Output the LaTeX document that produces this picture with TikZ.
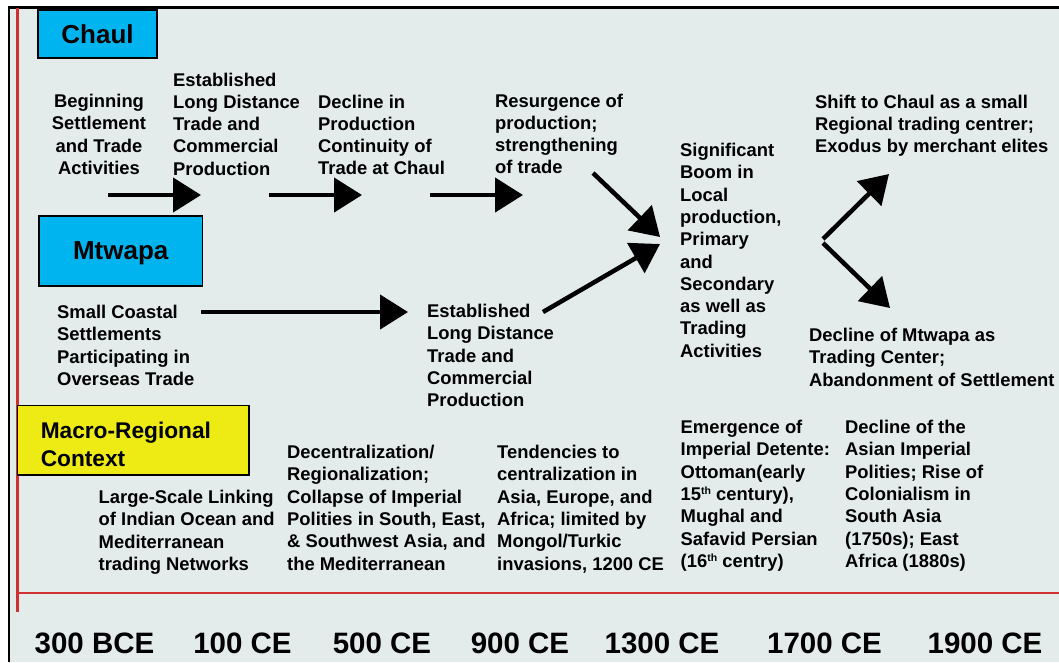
\documentclass[tikz,border=0pt]{standalone}
\usepackage{fontspec}
\setmainfont{Liberation Sans}
\usetikzlibrary{arrows.meta}
\definecolor{panel}{RGB}{227,236,235}
\definecolor{boxblue}{RGB}{0,181,239}
\definecolor{boxyellow}{RGB}{238,234,20}
\definecolor{axisred}{RGB}{208,48,47}
\newcommand{\supth}{\raisebox{6pt}{\fontsize{10.5}{10.5}\selectfont th}}
\tikzset{
  txt/.style={font=\fontsize{18.4}{22.3}\selectfont\bfseries, align=left, anchor=north west, inner sep=0pt},
  site/.style={draw, line width=1.5pt, fill=boxblue, font=\fontsize{26}{30}\selectfont\bfseries, text depth=0pt, inner sep=0pt},
  year/.style={font=\fontsize{29.5}{34}\selectfont\bfseries, anchor=base, inner sep=0pt},
  flow/.style={line width=4.5pt, -{Triangle[length=28pt,width=34pt]}}
}
\begin{document}
\begin{tikzpicture}[x=1pt,y=-1pt]
        \def\xmax{1059} \def\ymax{662}
        \useasboundingbox (0,0) rectangle (\xmax,\ymax);
        \fill[panel] (9,8) rectangle (\xmax,\ymax);
        \draw[line width=2.5pt] (9,\ymax) -- (9,7.5) -- (\xmax,7.5);
        \draw[axisred,line width=2.2pt] (17.5,8) -- (17.5,612);
        \draw[axisred,line width=2.2pt] (17.5,593) -- (\xmax,593);

        \node[site, minimum width=119pt, minimum height=48pt] (chaul) at (97.5,34) {Chaul};
        \node[site, minimum width=163.5pt, minimum height=70pt] (mtwapa) at (120.75,251) {Mtwapa};
        \node[draw, line width=1.5pt, fill=boxyellow, font=\fontsize{22.7}{28}\selectfont\bfseries,
              align=left, anchor=north west, minimum width=231.6pt, minimum height=69.3pt,
              text width=185pt, inner xsep=23.3pt, inner ysep=0pt] (ctx) at (16.7,404.7)
              {\rule{0pt}{25.3pt}Macro-Regional\\Context};

        \node[txt, align=center, anchor=north] (ch1) at (99,94) {Beginning\\Settlement\\and Trade\\Activities};
        \node[txt] (ch2) at (173,72.5) {Established\\Long Distance\\Trade and\\Commercial\\Production};
        \node[txt] (ch3) at (318,94.5) {Decline in\\Production\\Continuity of\\Trade at Chaul};
        \node[txt] (ch4) at (495,93.5) {Resurgence of\\production;\\strengthening\\of trade};
        \node[txt] (boom) at (680,143) {Significant\\Boom in\\Local\\production,\\Primary\\and\\Secondary\\as well as\\Trading\\Activities};
        \node[txt] (ch5) at (815,94.5) {Shift to Chaul as a small\\Regional trading centrer;\\Exodus by merchant elites};

        \node[txt] (mt1) at (57,305) {Small Coastal\\Settlements\\Participating in\\Overseas Trade};
        \node[txt] (mt2) at (427,304) {Established\\Long Distance\\Trade and\\Commercial\\Production};
        \node[txt] (mt3) at (809,328) {Decline of Mtwapa as\\Trading Center;\\Abandonment of Settlement};

        \node[txt] (mr1) at (98.5,490) {Large-Scale Linking\\of Indian Ocean and\\Mediterranean\\trading Networks};
        \node[txt] (mr2) at (287,445) {Decentralization/\\Regionalization;\\Collapse of Imperial\\Polities in South, East,\\\& Southwest Asia, and\\the Mediterranean};
        \node[txt] (mr3) at (497,445) {Tendencies to\\centralization in\\Asia, Europe, and\\Africa; limited by\\Mongol/Turkic\\invasions, 1200 CE};
        \node[txt] (mr4) at (680.5,420) {Emergence of\\Imperial Detente:\\Ottoman(early\\15\supth{} century),\\Mughal and\\Safavid Persian\\(16\supth{} centry)};
        \node[txt] (mr5) at (845,420) {Decline of the\\Asian Imperial\\Polities; Rise of\\Colonialism in\\South Asia\\(1750s); East\\Africa (1880s)};

        \coordinate (s1) at (108,195); \coordinate (e1) at (201,195);
        \coordinate (s2) at (269,195); \coordinate (e2) at (362,195);
        \coordinate (s3) at (430,195); \coordinate (e3) at (523,195);
        \coordinate (s4) at (593,173); \coordinate (e4) at (660,237);
        \coordinate (s5) at (543,312); \coordinate (e5) at (660,244);
        \coordinate (s6) at (201,312); \coordinate (e6) at (408,312);
        \coordinate (s7) at (823,239); \coordinate (e7) at (889,174);
        \coordinate (s8) at (823,243); \coordinate (e8) at (890,308);
        \foreach \n in {1,...,8}
            \draw[flow] (s\n) -- (e\n);

        \foreach \x/\yr [count=\i] in {94.5/300 BCE, 242.5/100 CE, 382/500 CE, 520/900 CE, 662/1300 CE, 824.5/1700 CE, 985/1900 CE}
            \node[year] (yr\i) at (\x,653) {\yr};
        \end{tikzpicture}
\end{document}
